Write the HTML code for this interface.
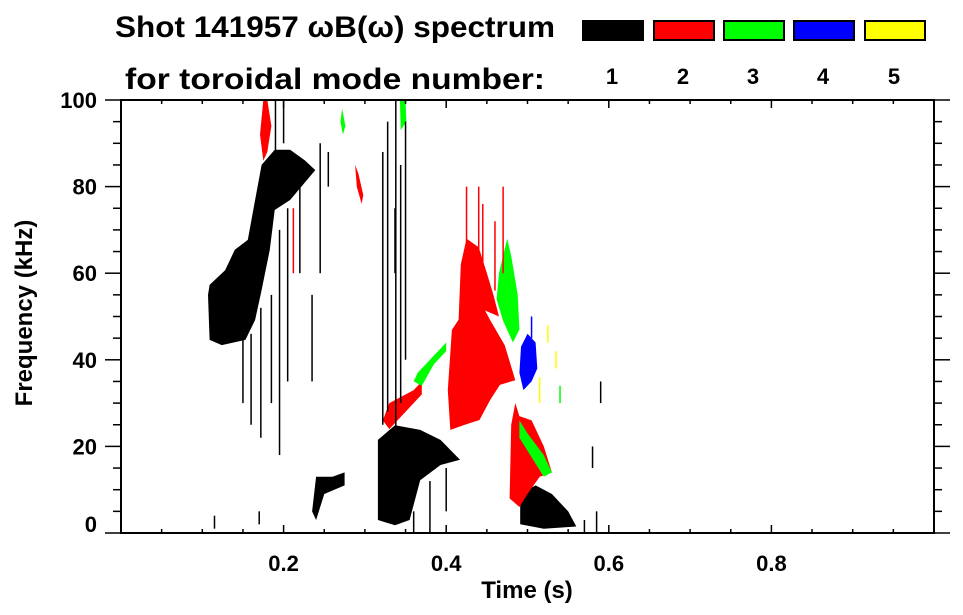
<!DOCTYPE html>
<html><head><meta charset="utf-8"><style>
html,body{margin:0;padding:0;background:#fff;}
svg{display:block;font-family:"Liberation Sans",Arial,sans-serif;font-weight:bold;}
</style></head><body>
<svg id="chart" width="963" height="615" viewBox="0 0 963 615" xmlns="http://www.w3.org/2000/svg">
<g id="marks"></g>
<g id="axes"></g>
<text x="115" y="37" font-size="30" textLength="440" lengthAdjust="spacingAndGlyphs">Shot 141957 ωB(ω) spectrum</text>
<text x="125" y="89" font-size="30" textLength="420" lengthAdjust="spacingAndGlyphs">for toroidal mode number:</text>
<g id="legend"></g>
<text x="527" y="598" font-size="24" text-anchor="middle">Time (s)</text>
<text transform="translate(32,313) rotate(-90)" font-size="24" text-anchor="middle">Frequency (kHz)</text>
</svg>
<script>
const modeColors = ['#000000','#ff0000','#00ff00','#0000ff','#ffff00'];
const modeLabels = ['1','2','3','4','5'];
const xTickLabels = ['0.2','0.4','0.6','0.8'];
const xTickValues = [0.2,0.4,0.6,0.8];
const yTickLabels = ['0','20','40','60','80','100'];
const yTickValues = [0,20,40,60,80,100];
// blob polygons: [time s, freq kHz]
const blobModes = [1,1,1,1,2,2,2,2,2,2,3,3,3,3,3,4];
const blobPoints = [
 [[.107,55],[.109,44.6],[.124,43.4],[.153,44.6],[.165,49.2],[.173,56.1],[.183,65.4],[.189,74.6],[.208,76.9],[.239,83.8],[.226,86.1],[.208,88.5],[.189,88.5],[.173,85],[.165,76.9],[.156,67.7],[.140,65.4],[.128,60.7],[.109,57.3]],
 [[.235,5],[.24,13],[.26,13],[.275,14],[.275,11],[.25,9],[.24,3]],
 [[.316,3],[.316,21.5],[.337,24.9],[.368,23.8],[.393,21.5],[.417,16.9],[.393,15.7],[.368,12.2],[.355,3],[.337,1.8]],
 [[.491,2],[.491,9],[.51,11],[.53,9],[.55,5],[.56,1.5],[.52,1]],
 [[.405,23.8],[.402,33],[.407,46.9],[.423,51.5],[.441,53.8],[.454,49.2],[.472,43.4],[.485,35.3],[.466,34.2],[.454,30.7],[.441,26.1],[.423,25]],
 [[.415,48],[.418,62],[.425,68],[.44,66],[.45,60],[.458,55],[.465,50],[.44,52]],
 [[.478,8],[.48,25],[.485,30],[.49,27],[.505,26],[.52,20],[.53,14],[.515,13],[.5,9],[.49,6]],
 [[.322,26],[.33,30],[.36,33],[.37,35],[.37,32],[.345,27],[.33,24]],
 [[.171,92],[.175,100],[.18,100],[.185,94],[.18,88],[.175,86]],
 [[.288,85],[.292,83],[.298,78],[.296,76],[.29,80]],
 [[.462,54],[.465,60],[.475,68],[.48,64],[.488,55],[.49,47],[.482,44],[.47,49]],
 [[.36,35],[.365,37],[.39,42],[.4,44],[.4,42],[.385,39],[.37,34]],
 [[.49,26],[.5,23],[.52,18],[.53,14],[.52,13],[.5,19],[.49,22]],
 [[.344,93],[.343,100],[.35,100],[.351,95]],
 [[.27,95],[.272,98],[.276,94],[.273,92]],
 [[.49,37],[.492,43],[.5,46],[.51,44],[.512,38],[.505,35],[.495,33]]
];
// streaks: time, f0, f1, mode
const streakT = [.322,.328,.338,.344,.35,.337,.15,.16,.172,.185,.195,.205,.22,.235,.245,.19,.2,.255,.585,.59,.58,.57,.36,.38,.4,.115,.17,.212,.46,.47,.44,.515,.525,.535,.54,.505,.425,.445];
const streakF0 = [25,28,20,30,40,60,30,25,22,30,18,35,60,35,60,88,90,80,0,30,15,0,0,0,5,1,2,60,56,60,62,30,44,38,30,45,65,60];
const streakF1 = [88,95,100,85,95,75,45,46,52,55,70,75,80,55,90,100,100,88,5,35,20,3,5,12,15,4,5,75,72,80,80,36,48,42,34,50,80,76];
const streakMode = [1,1,1,1,1,1,1,1,1,1,1,1,1,1,1,1,1,1,1,1,1,1,1,1,1,1,1,2,2,2,2,5,5,5,3,4,2,2];

const X0=121, XS=813, Y0=533, YS=4.33;
const xs = t => X0 + t*XS;
const ys = f => Y0 - f*YS;
const NS='http://www.w3.org/2000/svg';
function mk(tag, attrs, parent){const e=document.createElementNS(NS,tag);for(const k in attrs)e.setAttribute(k,attrs[k]);parent.appendChild(e);return e;}

const marks=document.getElementById('marks');
blobPoints.forEach((pts,i)=>{
  const p=mk('polygon',{points:pts.map(q=>xs(q[0]).toFixed(1)+','+ys(q[1]).toFixed(1)).join(' '),fill:modeColors[blobModes[i]-1]},marks);
  
  
});
streakT.forEach((t,i)=>{
  const l=mk('line',{x1:xs(t),x2:xs(t),y1:ys(streakF0[i]),y2:ys(streakF1[i]),stroke:modeColors[streakMode[i]-1],'stroke-width':1.5},marks);
  
  
});

const axes=document.getElementById('axes');
const L=xs(0), R=xs(1), T=ys(100), B=ys(0);
const frame=mk('rect',{x:L,y:T,width:R-L,height:B-T,fill:'none',stroke:'#000','stroke-width':2},axes);


for(let k=0;k<=20;k++){
  const t=k*0.05, x=xs(t), major=(k%4===0);
  const len=major?8:4;
  mk('line',{x1:x,x2:x,y1:B,y2:B-len,stroke:'#000','stroke-width':1.5},axes);
  mk('line',{x1:x,x2:x,y1:T,y2:T+len,stroke:'#000','stroke-width':1.5},axes);
}
for(let k=0;k<=20;k++){
  const f=k*5, y=ys(f), major=(k%4===0);
  const len=major?16:8;
  mk('line',{x1:L,x2:L-len,y1:y,y2:y,stroke:'#000','stroke-width':1.5},axes);
  mk('line',{x1:R,x2:R+len,y1:y,y2:y,stroke:'#000','stroke-width':1.5},axes);
}
xTickLabels.forEach((s,i)=>{
  const tx=mk('text',{x:xs(xTickValues[i]),y:571,'font-size':22,'text-anchor':'middle'},axes);
  tx.textContent=s;
  
  
});
yTickLabels.forEach((s,i)=>{
  const yy = yTickValues[i]===0 ? ys(0)-1 : ys(yTickValues[i])+8;
  const tx=mk('text',{x:97,y:yy,'font-size':22,'text-anchor':'end'},axes);
  tx.textContent=s;
  
  
});
const legend=document.getElementById('legend');
const boxX=[582,653,723,793,864];
modeColors.forEach((c,i)=>{
  const r=mk('rect',{x:boxX[i]+1,y:21,width:60,height:19,fill:c,stroke:'#000','stroke-width':2},legend);
  
  
  const tx=mk('text',{x:boxX[i]+30,y:84,'font-size':22,'text-anchor':'middle'},legend);
  tx.textContent=modeLabels[i];
  
  
});
</script>
</body></html>
